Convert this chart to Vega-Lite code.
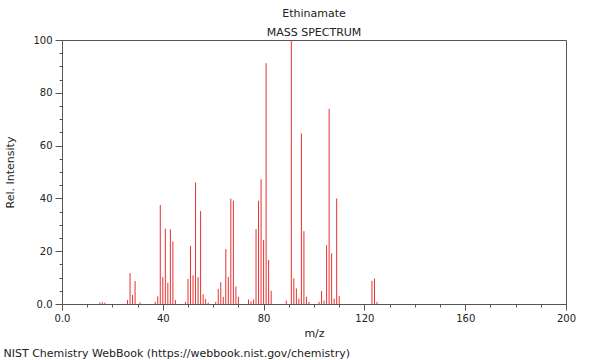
{
  "$schema": "https://vega.github.io/schema/vega-lite/v6.json",
  "autosize": {"type": "none"},
  "width": 504,
  "height": 264,
  "padding": {"left": 62, "top": 40, "right": 34, "bottom": 56},
  "background": "white",
  "config": {
    "font": "DejaVu Sans",
    "view": {"stroke": "#555", "strokeWidth": 1},
    "axis": {"grid": false, "domainColor": "#555", "tickColor": "#555", "labelColor": "#222", "titleColor": "#222", "labelFont": "DejaVu Sans", "titleFont": "DejaVu Sans", "labelFontSize": 10, "titleFontSize": 11, "titleFontWeight": "normal"}
  },
  "title": {
    "text": "Ethinamate",
    "subtitle": "MASS SPECTRUM",
    "fontSize": 11,
    "fontWeight": "normal",
    "subtitleFontSize": 11,
    "font": "DejaVu Sans",
    "subtitleFont": "DejaVu Sans",
    "color": "#222",
    "subtitleColor": "#222",
    "subtitlePadding": 8,
    "offset": -3,
    "anchor": "middle"
  },
  "data": {"values": [
    {"mz": 15, "intensity": 0.6}, {"mz": 16, "intensity": 0.7}, {"mz": 17, "intensity": 0.5},
    {"mz": 26, "intensity": 1.5}, {"mz": 27, "intensity": 11.7}, {"mz": 28, "intensity": 3.4}, {"mz": 29, "intensity": 8.7},
    {"mz": 31, "intensity": 0.6}, {"mz": 37, "intensity": 0.8}, {"mz": 38, "intensity": 2.9}, {"mz": 39, "intensity": 37.5},
    {"mz": 40, "intensity": 10.2}, {"mz": 41, "intensity": 28.5}, {"mz": 42, "intensity": 8.0}, {"mz": 43, "intensity": 28.3},
    {"mz": 44, "intensity": 23.7}, {"mz": 45, "intensity": 1.5}, {"mz": 49, "intensity": 0.8}, {"mz": 50, "intensity": 9.5},
    {"mz": 51, "intensity": 22.0}, {"mz": 52, "intensity": 10.9}, {"mz": 53, "intensity": 46.0}, {"mz": 54, "intensity": 10.2},
    {"mz": 55, "intensity": 35.2}, {"mz": 56, "intensity": 3.7}, {"mz": 57, "intensity": 1.9}, {"mz": 58, "intensity": 0.5},
    {"mz": 61, "intensity": 0.8}, {"mz": 62, "intensity": 5.7}, {"mz": 63, "intensity": 8.2}, {"mz": 64, "intensity": 2.7},
    {"mz": 65, "intensity": 20.8}, {"mz": 66, "intensity": 10.2}, {"mz": 67, "intensity": 39.9}, {"mz": 68, "intensity": 39.1},
    {"mz": 69, "intensity": 6.6}, {"mz": 70, "intensity": 2.7}, {"mz": 74, "intensity": 1.7}, {"mz": 75, "intensity": 1.0},
    {"mz": 76, "intensity": 1.7}, {"mz": 77, "intensity": 28.4}, {"mz": 78, "intensity": 39.1}, {"mz": 79, "intensity": 47.3},
    {"mz": 80, "intensity": 24.2}, {"mz": 81, "intensity": 91.2}, {"mz": 82, "intensity": 16.7}, {"mz": 83, "intensity": 5.0},
    {"mz": 89, "intensity": 1.3}, {"mz": 91, "intensity": 100}, {"mz": 92, "intensity": 9.7}, {"mz": 93, "intensity": 5.9},
    {"mz": 94, "intensity": 2.1}, {"mz": 95, "intensity": 64.6}, {"mz": 96, "intensity": 27.6}, {"mz": 97, "intensity": 2.7},
    {"mz": 98, "intensity": 0.8}, {"mz": 102, "intensity": 0.8}, {"mz": 103, "intensity": 4.9}, {"mz": 104, "intensity": 1.3},
    {"mz": 105, "intensity": 22.3}, {"mz": 106, "intensity": 73.9}, {"mz": 107, "intensity": 19.2}, {"mz": 108, "intensity": 2.0},
    {"mz": 109, "intensity": 40.0}, {"mz": 110, "intensity": 3.0}, {"mz": 123, "intensity": 8.8}, {"mz": 124, "intensity": 9.6},
    {"mz": 125, "intensity": 0.8}
  ]},
  "layer": [
    {
      "mark": {"type": "rule", "color": "#e8302f", "strokeWidth": 1},
      "encoding": {
        "x": {
          "field": "mz", "type": "quantitative",
          "scale": {"domain": [0, 200], "nice": false, "zero": false},
          "axis": {
            "title": "m/z",
            "values": [0,10,20,30,40,50,60,70,80,90,100,110,120,130,140,150,160,170,180,190,200],
            "labelExpr": "datum.value % 40 === 0 ? (datum.value === 0 ? '0.0' : datum.label) : ''",
            "tickSize": {"condition": {"test": "datum.value % 40 === 0", "value": 6}, "value": 3},
            "labelPadding": 3,
            "labelFlush": false,
            "labelOverlap": false,
            "titleY": 29,
            "titleBaseline": "middle"
          }
        },
        "y": {
          "field": "intensity", "type": "quantitative",
          "scale": {"domain": [0, 100], "nice": false},
          "axis": {
            "title": "Rel. Intensity",
            "values": [0,5,10,15,20,25,30,35,40,45,50,55,60,65,70,75,80,85,90,95,100],
            "labelExpr": "datum.value % 20 === 0 ? (datum.value === 0 ? '0.0' : datum.label) : ''",
            "tickSize": {"condition": {"test": "datum.value % 20 === 0", "value": 7}, "value": 3},
            "labelPadding": 3,
            "labelFlush": false,
            "labelOverlap": false,
            "titleX": -52,
            "titleY": 132,
            "titleBaseline": "middle",
            "titleAlign": "center"
          }
        },
        "y2": {"datum": 0}
      }
    },
    {
      "mark": {"type": "rule", "opacity": 0},
      "encoding": {
        "x": {
          "field": "mz", "type": "quantitative",
          "axis": {
            "orient": "bottom",
            "offset": 0,
            "title": "NIST Chemistry WebBook (https://webbook.nist.gov/chemistry)",
            "domain": false, "ticks": false, "labels": false,
            "titleAnchor": "start",
            "titleAlign": "left",
            "titleX": -59,
            "titleY": 49,
            "titleBaseline": "middle"
          }
        }
      }
    }
  ],
  "resolve": {"axis": {"x": "independent"}}
}
